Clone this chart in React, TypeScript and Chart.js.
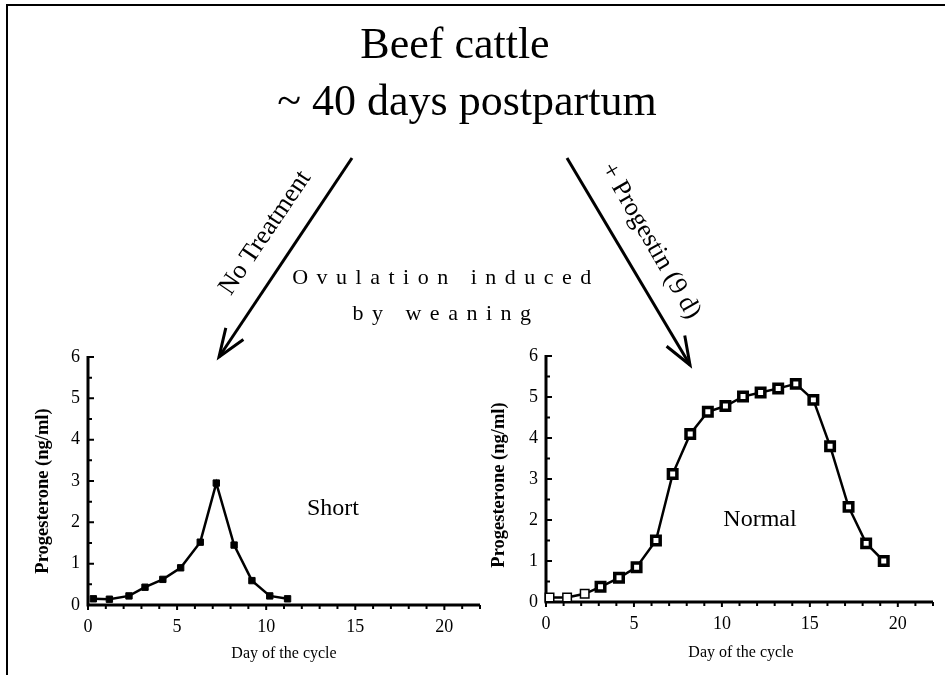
import React, { useEffect, useRef } from "react";
import { Chart, registerables } from "chart.js";

Chart.register(...registerables);

// ---- data ----
const SHORT_DAYS = [0.3, 1.2, 2.3, 3.2, 4.2, 5.2, 6.3, 7.2, 8.2, 9.2, 10.2, 11.2];
const SHORT_P4 = [0.15, 0.14, 0.22, 0.43, 0.62, 0.9, 1.52, 2.95, 1.45, 0.59, 0.22, 0.15];

const NORMAL_DAYS = [0.2, 1.2, 2.2, 3.1, 4.15, 5.15, 6.25, 7.2, 8.2, 9.2, 10.2, 11.2, 12.2, 13.2, 14.2, 15.2, 16.15, 17.2, 18.2, 19.2];
const NORMAL_P4 = [0.11, 0.11, 0.2, 0.37, 0.59, 0.85, 1.5, 3.12, 4.1, 4.64, 4.78, 5.01, 5.11, 5.21, 5.32, 4.93, 3.8, 2.32, 1.43, 1.0];

const X_TICKS = [0, 5, 10, 15, 20];
const Y_TICKS = [0, 1, 2, 3, 4, 5, 6];
const X_MAX = 22;
const Y_MAX = 6;
const X_MINOR_STEP = 1;
const Y_MINOR_STEP = 0.5;

const SERIF = "'Liberation Serif', 'Times New Roman', Times, serif";

const axesPlugin = {
  id: "handAxes",
  beforeDatasetsDraw(chart: any) {
    const { ctx, scales } = chart;
    const xs = scales.x;
    const ys = scales.y;
    const x0 = xs.getPixelForValue(0);
    const y0 = ys.getPixelForValue(0);
    const xEnd = xs.getPixelForValue(X_MAX);
    const yTop = ys.getPixelForValue(Y_MAX);
    ctx.save();
    ctx.strokeStyle = "#000";
    ctx.lineWidth = 3;
    ctx.beginPath();
    ctx.moveTo(x0, yTop - 1);
    ctx.lineTo(x0, y0 + 1.5);
    ctx.moveTo(x0 - 1.5, y0);
    ctx.lineTo(xEnd, y0);
    ctx.stroke();
    ctx.lineWidth = 2;
    ctx.beginPath();
    for (let v = 0; v <= Y_MAX + 1e-9; v += Y_MINOR_STEP) {
      const py = ys.getPixelForValue(v);
      const major = Math.abs(v - Math.round(v)) < 1e-6;
      ctx.moveTo(x0, py);
      ctx.lineTo(x0 + (major ? 6 : 4), py);
    }
    for (let d = 0; d <= X_MAX + 1e-9; d += X_MINOR_STEP) {
      const px = xs.getPixelForValue(d);
      const major = d % 5 === 0;
      ctx.moveTo(px, y0);
      ctx.lineTo(px, y0 + (major ? 5 : 4));
    }
    ctx.stroke();
    ctx.restore();
  },
};

type Geom = { padTop: number; padRight: number; yWidth: number; xHeight: number };

function makeConfig(days: number[], values: number[], open: boolean, g: Geom): any {
  return {
    type: "line",
    data: {
      datasets: [
        {
          data: days.map((d, i) => ({ x: d, y: values[i] })),
          borderColor: "#000",
          borderWidth: 2.5,
          tension: 0,
          clip: false,
          pointStyle: "rect",
          pointRadius: open ? 6 : 4.5,
          pointBackgroundColor: open ? "#fff" : "#000",
          pointBorderColor: "#000",
          pointBorderWidth: open ? (c: any) => (c.dataIndex < 3 ? 1.5 : 3.5) : 1,
        },
      ],
    },
    options: {
      animation: false,
      responsive: false,
      events: [],
      layout: { padding: { top: g.padTop, right: g.padRight, left: 0, bottom: 0 } },
      plugins: { legend: { display: false }, tooltip: { enabled: false } },
      scales: {
        x: {
          type: "linear",
          min: 0,
          max: X_MAX,
          grid: { display: false, drawTicks: false },
          border: { display: false },
          afterBuildTicks: (s: any) => {
            s.ticks = X_TICKS.map((v) => ({ value: v }));
          },
          afterFit: (s: any) => {
            s.height = g.xHeight;
          },
          ticks: { color: "#000", font: { family: SERIF, size: 18 }, padding: 11, maxRotation: 0, autoSkip: false },
        },
        y: {
          type: "linear",
          min: 0,
          max: Y_MAX,
          grid: { display: false, drawTicks: false },
          border: { display: false },
          afterBuildTicks: (s: any) => {
            s.ticks = Y_TICKS.map((v) => ({ value: v }));
          },
          afterFit: (s: any) => {
            s.width = g.yWidth;
          },
          ticks: { color: "#000", font: { family: SERIF, size: 18 }, padding: 8, autoSkip: false },
        },
      },
    },
    plugins: [axesPlugin],
  };
}

function ChartBox(props: { left: number; top: number; width: number; height: number; days: number[]; values: number[]; open: boolean; g: Geom }) {
  const ref = useRef<HTMLCanvasElement | null>(null);
  useEffect(() => {
    if (!ref.current) return;
    const chart = new Chart(ref.current, makeConfig(props.days, props.values, props.open, props.g));
    return () => chart.destroy();
  }, []);
  return (
    <div style={{ position: "absolute", left: props.left, top: props.top, width: props.width, height: props.height }}>
      <canvas ref={ref} width={props.width} height={props.height} style={{ display: "block" }} />
    </div>
  );
}

function arrowHead(x1: number, y1: number, x2: number, y2: number, len: number, ang: number) {
  const a = Math.atan2(y1 - y2, x1 - x2);
  const p1 = [x2 + len * Math.cos(a + ang), y2 + len * Math.sin(a + ang)];
  const p2 = [x2 + len * Math.cos(a - ang), y2 + len * Math.sin(a - ang)];
  return `${p1[0]},${p1[1]} ${x2},${y2} ${p2[0]},${p2[1]}`;
}

export default function App() {
  const L = { x1: 352, y1: 158, x2: 219, y2: 357 };
  const R = { x1: 567, y1: 158, x2: 690, y2: 365 };
  return (
    <div style={{ position: "absolute", left: 0, top: 0, width: 945, height: 675, background: "#fff", overflow: "hidden" }}>
      <div style={{ position: "absolute", left: 6, top: 4, width: 945, height: 680, borderTop: "2px solid #000", borderLeft: "2px solid #000" }} />
      <ChartBox left={20} top={330} width={470} height={340} days={SHORT_DAYS} values={SHORT_P4} open={false} g={{ padTop: 27, padRight: 10, yWidth: 68, xHeight: 65 }} />
      <ChartBox left={490} top={330} width={455} height={340} days={NORMAL_DAYS} values={NORMAL_P4} open={true} g={{ padTop: 26, padRight: 12, yWidth: 56, xHeight: 68 }} />
      <svg width={945} height={675} style={{ position: "absolute", left: 0, top: 0, pointerEvents: "none" }}>
        <g fontFamily={SERIF} fill="#000">
          <text x={455} y={58} fontSize={44} textAnchor="middle">Beef cattle</text>
          <text x={467} y={115} fontSize={44} textAnchor="middle">~ 40 days postpartum</text>
          <text transform="translate(264,232) rotate(-56)" fontSize={26} textAnchor="middle" dominantBaseline="central">No Treatment</text>
          <text transform="translate(652,240) rotate(60)" fontSize={26} textAnchor="middle" dominantBaseline="central">+ Progestin (9 d)</text>
          <text x={446} y={284} fontSize={22} letterSpacing={8.5} textAnchor="middle">Ovulation induced</text>
          <text x={446} y={320} fontSize={22} letterSpacing={8.5} textAnchor="middle">by weaning</text>
          <text x={333} y={515} fontSize={24} textAnchor="middle">Short</text>
          <text x={760} y={526} fontSize={24} textAnchor="middle">Normal</text>
          <text transform="translate(42,491) rotate(-90)" fontSize={18.5} fontWeight="bold" textAnchor="middle" dominantBaseline="central">Progesterone (ng/ml)</text>
          <text transform="translate(498,485) rotate(-90)" fontSize={18.5} fontWeight="bold" textAnchor="middle" dominantBaseline="central">Progesterone (ng/ml)</text>
          <text x={284} y={658} fontSize={16} textAnchor="middle">Day of the cycle</text>
          <text x={741} y={657} fontSize={16} textAnchor="middle">Day of the cycle</text>
        </g>
        <g stroke="#000" strokeWidth={3} fill="none">
          <line x1={L.x1} y1={L.y1} x2={L.x2} y2={L.y2} />
          <polyline points={arrowHead(L.x1, L.y1, L.x2, L.y2, 30, 0.36)} />
          <line x1={R.x1} y1={R.y1} x2={R.x2} y2={R.y2} />
          <polyline points={arrowHead(R.x1, R.y1, R.x2, R.y2, 30, 0.36)} />
        </g>
      </svg>
    </div>
  );
}
